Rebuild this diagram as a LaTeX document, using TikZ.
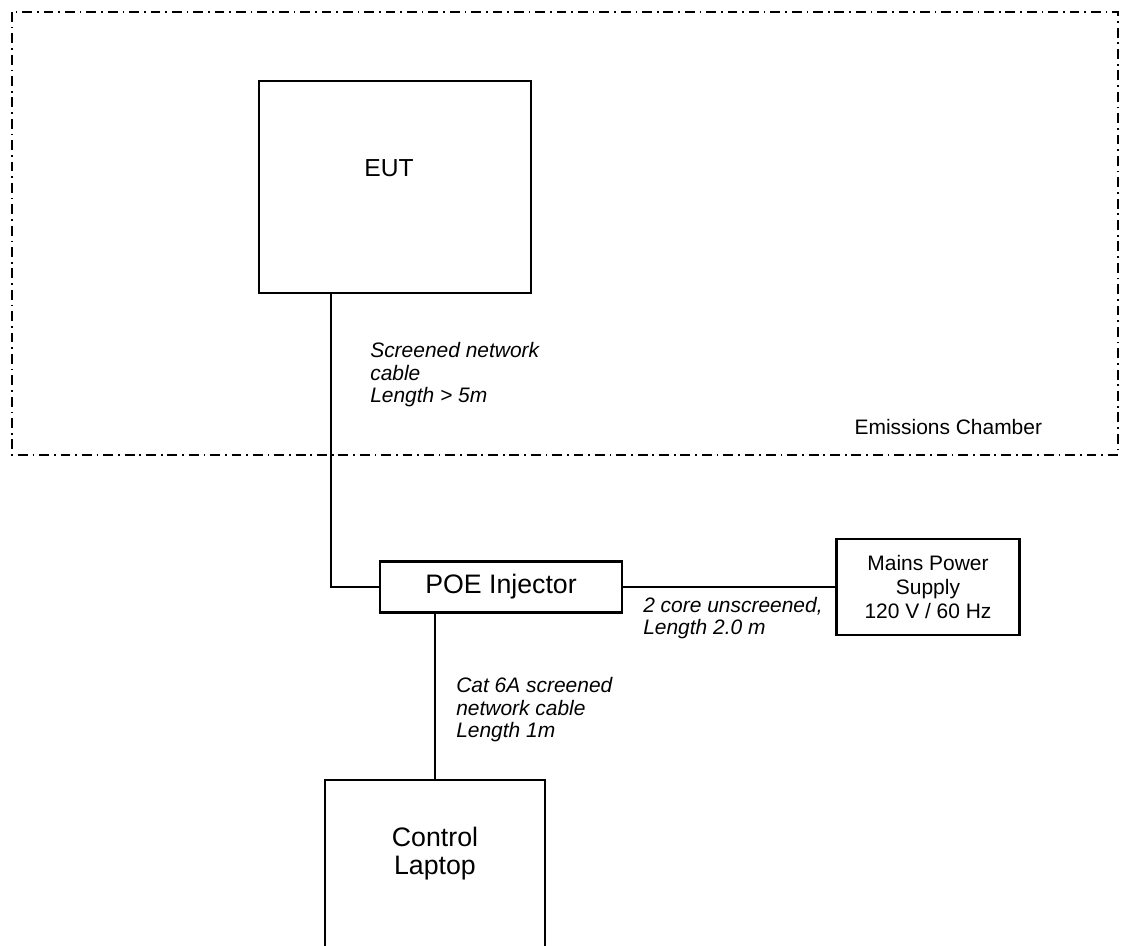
\documentclass[tikz,border=0pt]{standalone}
\usepackage{fontspec}
\setmainfont{Liberation Sans}
\usetikzlibrary{calc}

\tikzset{
  box/.style={draw, line width=1.5pt, inner sep=0pt},
  bigtext/.style={font=\fontsize{19}{20}\selectfont, align=center},
  midtext/.style={font=\fontsize{14.9}{17.4}\selectfont, align=center},
  cabletext/.style={font=\fontsize{14.9}{16}\selectfont\itshape, align=left, anchor=west, inner xsep=0pt},
  chamber/.style={line width=1.6pt, dash pattern=on 7pt off 3.5pt on 1.2pt off 3.5pt},
  cable/.style={line width=1.5pt},
}

\begin{document}
\begin{tikzpicture}[x=0.025cm, y=-0.025cm]
    \path[use as bounding box, clip] (0,0) rectangle (1126,946);

    % chamber
    \draw[chamber] (12,12) rectangle (1118,455);
    \node[midtext, anchor=east] (chambername) at (1047,427) {Emissions Chamber};

    % units
    \node[box, minimum width=6.8cm, minimum height=5.3cm] (eut) at (395,187) {};
    \node[bigtext, font=\fontsize{17.5}{20}\selectfont] (euttext) at (389,168) {EUT};
    \node[box, minimum width=6.05cm, minimum height=1.275cm, font=\fontsize{19}{20}\selectfont] (poe) at (501,587) {POE Injector};
    \node[box, minimum width=4.575cm, minimum height=2.4cm, midtext] (mains) at (928,587) {Mains Power\\Supply\\120 V / 60 Hz};
    \node[box, minimum width=5.5cm, minimum height=6cm] (laptop) at (435,900) {};
    \node[bigtext] (laptoptext) at (435,854) {Control\\Laptop};

    % cables
    \draw[cable] ($(eut.south west)+(73,0)$) |- (poe.west);
    \draw[cable] (poe.east) -- (mains.west);
    \draw[cable] (laptop.north) -- (laptop.north |- poe.south);

    \node[cabletext] (cableeut) at (370,375) {Screened network\\cable\\Length > 5m};
    \node[cabletext] (cablemains) at (643,618) {2 core unscreened,\\Length 2.0 m};
    \node[cabletext] (cablelaptop) at (456,710) {Cat 6A screened\\network cable\\Length 1m};
\end{tikzpicture}
\end{document}
